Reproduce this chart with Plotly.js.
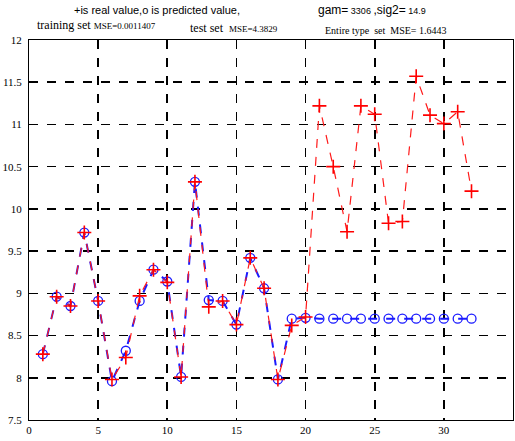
<!DOCTYPE html>
<html>
<head>
<meta charset="utf-8">
<script src="https://cdn.plot.ly/plotly-3.0.1.min.js"></script>
<style>html,body{margin:0;padding:0;background:#fff;}#chart{width:515px;height:441px;}</style>
</head>
<body>
<div id="chart"></div>
<script>
const sampleIndex = [1,2,3,4,5,6,7,8,9,10,11,12,13,14,15,16,17,18,19,20,21,22,23,24,25,26,27,28,29,30,31,32];
const realValues = [8.28,8.96,8.85,9.72,8.91,7.98,8.24,8.97,9.28,9.13,8.01,10.32,8.84,8.91,8.63,9.42,9.06,7.98,8.62,8.72,
                    11.22,10.50,9.73,11.22,11.12,9.83,9.85,11.57,11.11,11.01,11.15,10.21];
const predictedValues = [8.28,8.96,8.85,9.72,8.91,7.96,8.32,8.91,9.28,9.14,8.01,10.32,8.92,8.91,8.63,9.42,9.06,7.98,8.70,8.71,
                    8.70,8.70,8.70,8.70,8.70,8.70,8.70,8.70,8.70,8.70,8.70,8.70];
const xTicks = [0,5,10,15,20,25,30,35];
const yTicks = [7.5,8,8.5,9,9.5,10,10.5,11,11.5,12];
const yTickText = ['7.5','8','8.5','9','9.5','10','10.5','11','11.5','12'];

const traces = [
  {
    x: sampleIndex, y: predictedValues, type: 'scatter', mode: 'lines+markers',
    line: {color: '#1a1aff', width: 2, dash: 'dash'},
    marker: {symbol: 'circle-open', size: 9, color: '#1a1aff', line: {width: 1.3, color: '#1a1aff'}},
    name: 'predicted'
  },
  {
    x: sampleIndex, y: realValues, type: 'scatter', mode: 'lines+markers',
    line: {color: '#ff1a1a', width: 1.2, dash: 'dash'},
    marker: {symbol: 'cross-thin-open', size: 10, color: '#ff0000', line: {width: 1.6, color: '#ff0000'}},
    name: 'real'
  }
];

const axisFont = {family: '"Liberation Serif", "Times New Roman", serif', size: 11, color: '#000'};
const sans = '"Liberation Sans", Arial, sans-serif';
const serif = '"Liberation Serif", "Times New Roman", serif';
const layout = {
  width: 515, height: 441,
  margin: {l: 29, r: 2, t: 40, b: 21},
  paper_bgcolor: '#fff', plot_bgcolor: '#fff',
  showlegend: false,
  xaxis: {
    range: [0, 35], tickvals: xTicks, ticktext: xTicks.map(String),
    showgrid: true, gridcolor: '#000', gridwidth: 1.6, griddash: 'dash',
    zeroline: false, showline: true, linecolor: '#000', linewidth: 1, mirror: true,
    ticks: '', tickfont: axisFont
  },
  yaxis: {
    range: [7.5, 12], tickvals: yTicks, ticktext: yTickText,
    showgrid: true, gridcolor: '#000', gridwidth: 1.6, griddash: 'dash',
    zeroline: false, showline: true, linecolor: '#000', linewidth: 1, mirror: true,
    ticks: '', tickfont: axisFont, ticklabelstandoff: 4
  },
  annotations: [
    {text: '+is real value,o is predicted value,', xref: 'paper', yref: 'paper', x: 0.265, y: 1.079, xanchor: 'center', yanchor: 'middle',
     showarrow: false, font: {family: sans, size: 11, color: '#000'}},
    {text: 'gam=<span style="font-size:9px"> 3306 </span>,sig2=<span style="font-size:9px"> 14.9</span>', xref: 'paper', yref: 'paper', x: 0.593, y: 1.079, xanchor: 'left', yanchor: 'middle',
     showarrow: false, font: {family: sans, size: 12, color: '#000'}},
    {text: 'training set <span style="font-size:9px">MSE=0.0011407</span>', xref: 'paper', yref: 'paper', x: 0.012, y: 1.04, xanchor: 'left', yanchor: 'middle',
     showarrow: false, font: {family: serif, size: 12, color: '#000'}},
    {text: 'test set  <span style="font-size:9px">MSE=4.3829</span>', xref: 'paper', yref: 'paper', x: 0.329, y: 1.032, xanchor: 'left', yanchor: 'middle',
     showarrow: false, font: {family: serif, size: 12, color: '#000'}},
    {text: 'Entire type  set  MSE= 1.6443', xref: 'paper', yref: 'paper', x: 0.607, y: 1.024, xanchor: 'left', yanchor: 'middle',
     showarrow: false, font: {family: serif, size: 10, color: '#000'}}
  ]
};

Plotly.newPlot('chart', traces, layout, {displayModeBar: false, staticPlot: true});
</script>
</body>
</html>
